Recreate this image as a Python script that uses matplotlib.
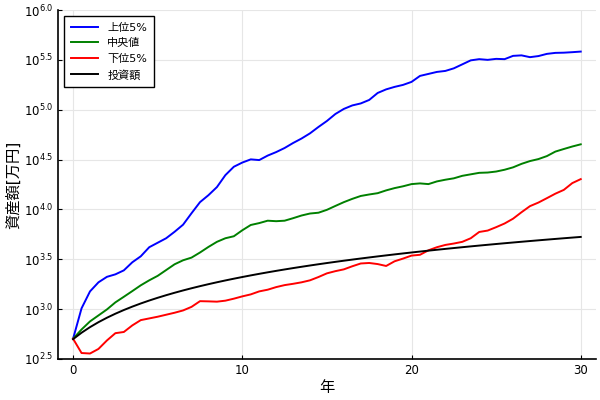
import numpy as np
import matplotlib
matplotlib.use("Agg")
from matplotlib import pyplot as plt
from matplotlib.ticker import FixedLocator, FixedFormatter, NullLocator

plt.rcParams['font.family'] = ['DejaVu Sans', 'Noto Sans CJK JP']

# years (half-year steps)
years = np.arange(0, 30.01, 0.5)

# log10 of asset value [万円]
top5_log = [2.703, 3.008, 3.178, 3.269, 3.324, 3.349, 3.389, 3.470, 3.530, 3.621,
            3.666, 3.711, 3.776, 3.847, 3.962, 4.073, 4.143, 4.224, 4.344, 4.428,
            4.470, 4.502, 4.495, 4.540, 4.575, 4.616, 4.666, 4.711, 4.763, 4.827,
            4.887, 4.957, 5.008, 5.043, 5.063, 5.098, 5.168, 5.204, 5.229, 5.249,
            5.279, 5.339, 5.359, 5.379, 5.389, 5.415, 5.455, 5.495, 5.507, 5.500,
            5.510, 5.507, 5.540, 5.545, 5.527, 5.538, 5.560, 5.570, 5.572, 5.577,
            5.583]
median_log = [2.703, 2.796, 2.877, 2.937, 2.997, 3.068, 3.124, 3.181, 3.239, 3.289,
              3.334, 3.392, 3.450, 3.490, 3.517, 3.568, 3.624, 3.675, 3.711, 3.731,
              3.791, 3.844, 3.863, 3.887, 3.882, 3.887, 3.912, 3.939, 3.959, 3.967,
              3.996, 4.035, 4.073, 4.106, 4.135, 4.150, 4.163, 4.191, 4.214, 4.232,
              4.254, 4.261, 4.254, 4.281, 4.298, 4.312, 4.337, 4.352, 4.367, 4.370,
              4.380, 4.398, 4.422, 4.457, 4.485, 4.505, 4.535, 4.580, 4.606, 4.631,
              4.653]
bottom5_log = [2.703, 2.560, 2.555, 2.601, 2.686, 2.759, 2.771, 2.837, 2.890, 2.907,
               2.924, 2.944, 2.964, 2.987, 3.023, 3.080, 3.078, 3.075, 3.085, 3.105,
               3.128, 3.148, 3.178, 3.195, 3.221, 3.241, 3.254, 3.269, 3.289, 3.322,
               3.359, 3.381, 3.399, 3.430, 3.458, 3.463, 3.452, 3.433, 3.480, 3.507,
               3.537, 3.545, 3.590, 3.621, 3.644, 3.658, 3.675, 3.711, 3.774, 3.788,
               3.822, 3.859, 3.907, 3.972, 4.033, 4.069, 4.113, 4.158, 4.196, 4.264,
               4.304]
# invested amount [万円]
invested = [500, 580, 660, 740, 820, 900, 980, 1060, 1140, 1220,
            1300, 1380, 1460, 1540, 1620, 1700, 1780, 1860, 1940, 2020,
            2100, 2180, 2260, 2340, 2420, 2500, 2580, 2660, 2740, 2820,
            2900, 2980, 3060, 3140, 3220, 3300, 3380, 3460, 3540, 3620,
            3700, 3780, 3860, 3940, 4020, 4100, 4180, 4260, 4340, 4420,
            4500, 4580, 4660, 4740, 4820, 4900, 4980, 5060, 5140, 5220,
            5300]

labels = ['上位5%', '中央値', '下位5%', '投資額']
ytick_exp = [2.5, 3.0, 3.5, 4.0, 4.5, 5.0, 5.5, 6.0]

fig = plt.figure(figsize=(6, 4), dpi=100)
ax = fig.add_axes([0.0967, 0.1025, 0.8963, 0.8725])

ax.plot(years, 10 ** np.array(top5_log), color='#0000ff', lw=1.4, label=labels[0])
ax.plot(years, 10 ** np.array(median_log), color='#008000', lw=1.4, label=labels[1])
ax.plot(years, 10 ** np.array(bottom5_log), color='#ff0000', lw=1.4, label=labels[2])
ax.plot(years, invested, color='black', lw=1.4, label=labels[3])

ax.set_yscale('log')
ax.set_ylim(10 ** 2.5, 10 ** 6.0)
ax.set_xlim(-0.89, 30.89)
ax.yaxis.set_major_locator(FixedLocator([10 ** e for e in ytick_exp]))
ax.yaxis.set_major_formatter(FixedFormatter([r'$10^{%.1f}$' % e for e in ytick_exp]))
ax.yaxis.set_minor_locator(NullLocator())
ax.set_xticks([0, 10, 20, 30])

ax.grid(True, color='#e6e6e6', lw=0.8)
ax.set_axisbelow(True)
for s in ['top', 'right']:
    ax.spines[s].set_visible(False)
for s in ['left', 'bottom']:
    ax.spines[s].set_linewidth(1.2)
ax.tick_params(direction='in', length=3, labelsize=8.5, colors='black')

ax.set_xlabel('年', fontsize=11, labelpad=2)
ax.set_ylabel('資産額[万円]', fontsize=11, labelpad=2)

leg = ax.legend(loc='upper left', fontsize=8, fancybox=False, framealpha=1,
                edgecolor='black', handlelength=2.5, borderpad=0.6,
                labelspacing=0.5, borderaxespad=0,
                bbox_to_anchor=(0.011, 0.983))
leg.get_frame().set_linewidth(1.0)

fig.savefig('out.png', dpi=100)
